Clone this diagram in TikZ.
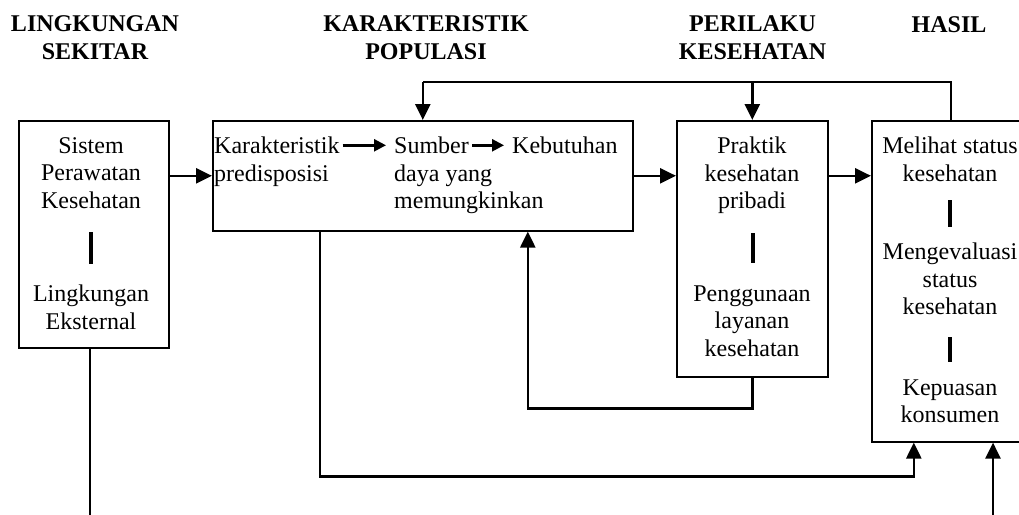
\documentclass[tikz,border=0pt]{standalone}
\usepackage{fontspec}
\setmainfont{Liberation Serif}
\usetikzlibrary{arrows.meta,positioning}

\tikzset{
  kotak/.style={draw, line width=1.6pt, anchor=north west, inner sep=0pt},
  teks/.style={align=center, inner sep=0pt, font=\fontsize{24}{27.6}\selectfont},
  baris/.style={anchor=base west, inner sep=0pt, font=\fontsize{24}{27.6}\selectfont},
  judul/.style={align=center, inner sep=0pt, font=\fontsize{24}{27.6}\selectfont\bfseries},
  garis/.style={line width=2pt},
  panah/.style={line width=2.5pt, -{Triangle[length=16pt,width=15pt]}},
  panahk/.style={line width=2.5pt, -{Triangle[length=12pt,width=12pt]}, shorten <=3pt, shorten >=8pt},
  batang/.style={line width=4pt},
}

\begin{document}
\begin{tikzpicture}[x=1pt,y=-1pt]
                \path[use as bounding box] (0,0) rectangle (1019,514);
                \clip (0,0) rectangle (1019,514);

                % judul kolom
                \node [judul] (j1) at (95,37.7) {LINGKUNGAN\\SEKITAR};
                \node [judul] (j2) at (426,37.7) {KARAKTERISTIK\\POPULASI};
                \node [judul] (j3) at (752.5,37.7) {PERILAKU\\KESEHATAN};
                \node [judul,anchor=base] (j4) at (949,32) {HASIL};

                % kotak
                \node [kotak, minimum width=150pt, minimum height=227pt] (lingk) at (18,120) {};
                \node [kotak, minimum width=420pt, minimum height=110pt] (pop) at (212,120) {};
                \node [kotak, minimum width=151pt, minimum height=256pt] (praktik) at (676,120) {};
                \node [kotak, minimum width=158pt, minimum height=321pt] (hasil) at (871,120) {};

                % isi kotak
                \node [teks] (sistem) at (91,173) {Sistem\\Perawatan\\Kesehatan};
                \node [teks] (eksternal) at (91,307.1) {Lingkungan\\Eksternal};
                \draw [batang] (91,232) to (91,264);

                \node [baris] (karak) at (214,153.5) {Karakteristik};
                \node [baris] (predis) at (214,181.1) {predisposisi};
                \node [baris] (sumber) at (394,153.5) {Sumber};
                \node [baris] (daya) at (394,181.1) {daya yang};
                \node [baris] (mungkin) at (394,208.7) {memungkinkan};
                \node [baris] (butuh) at (512,153.5) {Kebutuhan};
                \draw [panahk] (karak.east) to (sumber.west);
                \draw [panahk] (sumber.east) to (butuh.west);

                \node [teks] (pribadi) at (752,175.5) {Praktik\\kesehatan\\pribadi};
                \node [teks] (layanan) at (752,321.2) {Penggunaan\\layanan\\kesehatan};
                \draw [batang] (753,233) to (753,263);

                \node [teks] (melihat) at (950,159.1) {Melihat status\\kesehatan};
                \node [teks] (evaluasi) at (950,278.9) {Mengevaluasi\\status\\kesehatan};
                \node [teks] (puas) at (950,401.3) {Kepuasan\\konsumen};
                \draw [batang] (950,200) to (950,227);
                \draw [batang] (950,337) to (950,362);

                % panah antar kotak
                \draw [panah] (lingk.east |- pop.west) to (pop.west);
                \draw [panah] (pop.east) to (praktik.west |- pop.east);
                \draw [panah] (praktik.east |- pop.east) to (hasil.west |- pop.east);

                % umpan balik atas
                \draw [garis] (hasil.north) to ++(0,-38) coordinate (ka) to (ka -| pop.north);
                \draw [panah] (ka -| pop.north) to (pop.north);
                \draw [panah] (ka -| praktik.north) to (praktik.north);

                % umpan balik bawah
                \draw [panah] (praktik.south) to ++(0,31) -| ([xshift=105pt]pop.south);
                \draw [panah] ([xshift=-103pt]pop.south) to ++(0,245) -| ([xshift=-37pt]hasil.south);

                % garis ke bawah
                \coordinate (bawah) at (993,530);
                \draw [panah] (bawah) to (bawah |- hasil.south);
                \draw [garis] ([xshift=-4pt]lingk.south) to ++(0,190);
\end{tikzpicture}
\end{document}
